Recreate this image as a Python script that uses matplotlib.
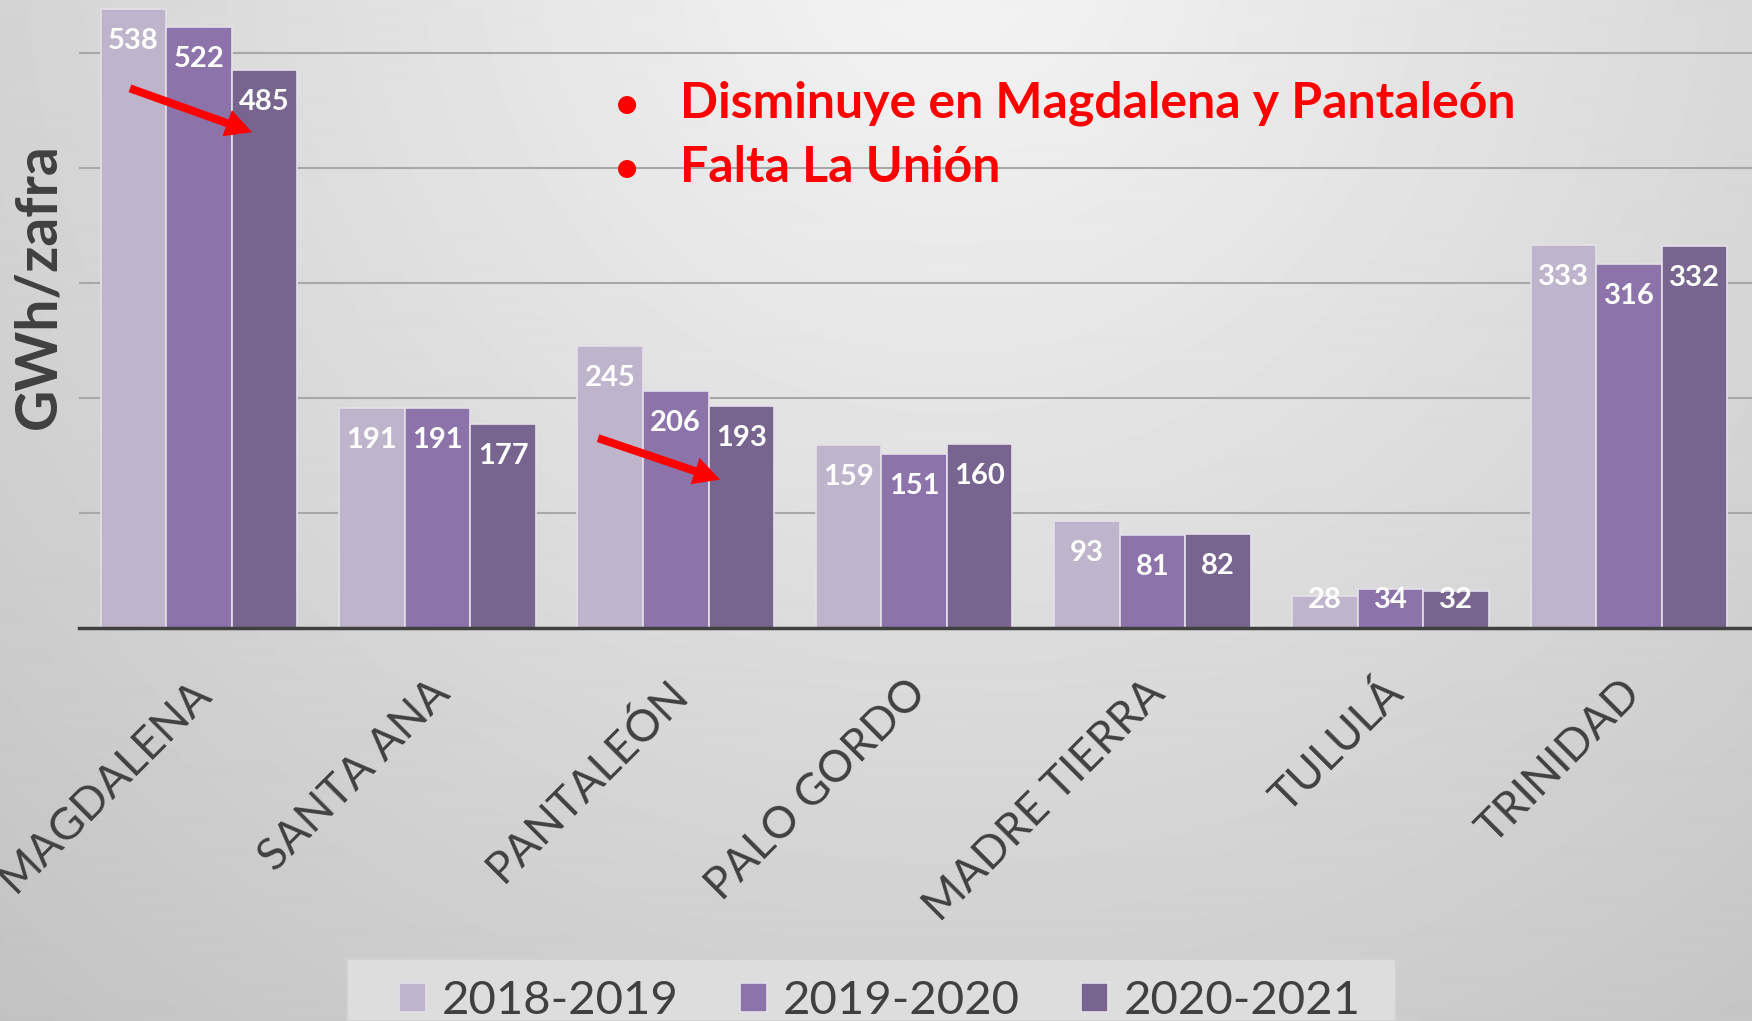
import numpy as np
import matplotlib
matplotlib.use('Agg')
import matplotlib.pyplot as plt
from matplotlib.patches import Rectangle
from matplotlib.transforms import ScaledTranslation

plt.rcParams['font.family'] = ['Lato', 'DejaVu Sans']

ingenios = ['MAGDALENA', 'SANTA ANA', 'PANTALEÓN', 'PALO GORDO',
            'MADRE TIERRA', 'TULULÁ', 'TRINIDAD']
zafras = ['2018-2019', '2019-2020', '2020-2021']
gwh_1819 = [538, 191, 245, 159, 93, 28, 333]
gwh_1920 = [522, 191, 206, 151, 81, 34, 316]
gwh_2021 = [485, 177, 193, 160, 82, 32, 332]
colores = ['#BEB5CC', '#8C74AA', '#78658F']

W, H = 1752, 1021


def main():
    fig = plt.figure(figsize=(W / 100, H / 100), dpi=100)

    # fondo gris con degradado radial
    bg = fig.add_axes([0, 0, 1, 1], zorder=-5)
    yy, xx = np.mgrid[0:H, 0:W]
    r = np.hypot(xx - 950, yy + 60) / 1300.0
    grad = np.clip(0.96 - 0.18 * r, 0, 1)
    bg.imshow(grad, cmap='gray', vmin=0, vmax=1, aspect='auto',
              extent=[0, 1, 0, 1], interpolation='bilinear')
    bg.axis('off')

    ax = fig.add_axes([79 / W, 1 - 628 / H, 1 - 79 / W, 628 / H])
    ax.set_facecolor('none')

    x = np.arange(len(ingenios))
    width = 0.275
    series = [gwh_1819, gwh_1920, gwh_2021]
    for i, vals in enumerate(series):
        pos = x + (i - 1) * width
        ax.bar(pos, vals, width, color=colores[i], edgecolor='#E4E0EA',
               linewidth=1.2, label=zafras[i], zorder=3)
        for xi, v in zip(pos, vals):
            # etiqueta dentro de la barra; en barras cortas se sube un poco
            ax.text(xi, max(v - 27.8, 24.5), str(v), ha='center',
                    va='center', color='white', fontsize=21,
                    fontweight='bold', zorder=8)

    ax.set_xlim(-0.504, 6.516)
    ax.set_ylim(0, 545.8)
    ax.set_yticks([100, 200, 300, 400, 500])
    ax.yaxis.grid(True, color='#A8A8A8', linewidth=1.5)
    ax.set_axisbelow(True)
    ax.tick_params(axis='y', left=False, labelleft=False)
    for s in ['top', 'right', 'left']:
        ax.spines[s].set_visible(False)
    ax.spines['bottom'].set_color('#404040')
    ax.spines['bottom'].set_linewidth(2.5)
    ax.spines['bottom'].set_zorder(6)

    ax.set_xticks(x)
    ax.set_xticklabels(ingenios, rotation=45, ha='right', va='top',
                       rotation_mode='anchor', fontsize=32, color='#404040')
    ax.tick_params(axis='x', length=0, pad=34)
    shift = ScaledTranslation(-0.09, 0.03, fig.dpi_scale_trans)
    for lab in ax.get_xticklabels():
        lab.set_transform(lab.get_transform() + shift)

    # flechas rojas
    arrow = dict(facecolor='red', edgecolor='none', width=5.8,
                 headwidth=20, headlength=19, shrink=0)
    ax.annotate('', xy=(0.222, 431), xytext=(-0.290, 469),
                arrowprops=arrow, zorder=7)
    ax.annotate('', xy=(2.186, 129), xytext=(1.674, 165),
                arrowprops=arrow, zorder=7)

    fig.text(39 / W, 1 - 286 / H, 'GWh/zafra', rotation=90, ha='center',
             va='center', fontsize=41, fontweight='bold', color='#404040')

    notas = ['Disminuye en Magdalena y Pantaleón', 'Falta La Unión']
    for nota, base in zip(notas, [118, 182]):
        fig.text(627 / W, 1 - base / H, '•', ha='center', va='baseline',
                 fontsize=30, fontweight='bold', color='#FF0000')
        fig.text(680 / W, 1 - base / H, nota, ha='left', va='baseline',
                 fontsize=36, fontweight='bold', color='#FF0000')

    # caja de la leyenda
    fig.patches.append(Rectangle((347 / W, 0), (1396 - 347) / W,
                                 (1021 - 959) / H, transform=fig.transFigure,
                                 facecolor='#DDDDDD', edgecolor='#D0D0D0',
                                 linewidth=1.5, zorder=0))
    fig.legend(loc='center', bbox_to_anchor=(880 / W, 1 - 1001 / H),
               ncol=3, fontsize=34, frameon=False,
               handlelength=0.57, handleheight=0.57, handletextpad=0.33,
               columnspacing=1.3, labelcolor='#404040')

    fig.savefig('out.png', dpi=100)


if __name__ == '__main__':
    main()
